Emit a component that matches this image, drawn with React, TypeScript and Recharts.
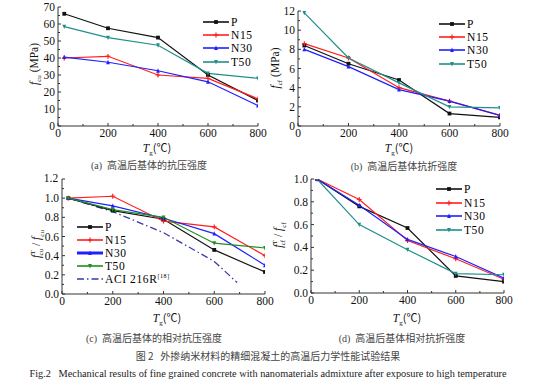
import React from "react";
import { LineChart, Line, XAxis, YAxis, ReferenceLine } from "recharts";

// temperatures (°C)
const temps = [25, 200, 400, 600, 800];

// (a) compressive strength f_cu (MPa)
const fcuP = [66, 57.5, 52, 30, 15];
const fcuN15 = [40, 41, 30, 28, 16];
const fcuN30 = [40.5, 37.5, 32.5, 26, 12];
const fcuT50 = [58.5, 52, 47.5, 31, 28];

// (b) flexural strength f_cf (MPa)
const fcfP = [8.4, 6.5, 4.8, 1.3, 0.9];
const fcfN15 = [8.6, 7.1, 4.0, 2.6, 1.1];
const fcfN30 = [8.0, 6.2, 3.8, 2.6, 1.1];
const fcfT50 = [11.8, 7.1, 4.5, 2.0, 1.9];

// (c) relative compressive strength
const relCuP = [1.0, 0.87, 0.78, 0.46, 0.23];
const relCuN15 = [1.0, 1.02, 0.76, 0.7, 0.4];
const relCuN30 = [1.0, 0.92, 0.79, 0.63, 0.3];
const relCuT50 = [1.0, 0.88, 0.8, 0.53, 0.48];
const aciTemps = [25, 200, 400, 600, 690];
const aciValues = [1.0, 0.86, 0.64, 0.34, 0.12];

// (d) relative flexural strength
const relCfP = [1.0, 0.76, 0.57, 0.15, 0.1];
const relCfN15 = [1.0, 0.82, 0.46, 0.3, 0.12];
const relCfN30 = [1.0, 0.77, 0.47, 0.32, 0.13];
const relCfT50 = [1.0, 0.6, 0.38, 0.17, 0.16];

const seriesNames = ["P", "N15", "N30", "T50"];
const xTicks = [0, 100, 200, 300, 400, 500, 600, 700, 800];
const xMajors = [0, 200, 400, 600, 800];

const SERIF = "'Liberation Serif', 'DejaVu Serif', serif";
const CJK = "'Noto Sans CJK SC', sans-serif";

const teal = "#1f8f8a";
const green = "#1f8f1f";
const styles: Record<string, { color: string; shape: string }> = {
  P: { color: "#111111", shape: "square" },
  N15: { color: "#ff1f1f", shape: "plus" },
  N30: { color: "#1f1fff", shape: "up" },
  T50: { color: teal, shape: "down" },
};

function rows(a: number[], b: number[], c: number[], d: number[]) {
  return temps.map((t, i) => ({ t, P: a[i], N15: b[i], N30: c[i], T50: d[i] }));
}

function Marker({ cx, cy, shape, color }: any) {
  if (cx == null || cy == null) return null;
  const s = 1.9;
  if (shape === "square")
    return <rect x={cx - s} y={cy - s} width={s * 2} height={s * 2} fill={color} />;
  if (shape === "plus")
    return (
      <g stroke={color} strokeWidth={1.2}>
        <line x1={cx - s - 0.5} y1={cy} x2={cx + s + 0.5} y2={cy} />
        <line x1={cx} y1={cy - s - 0.5} x2={cx} y2={cy + s + 0.5} />
      </g>
    );
  if (shape === "up")
    return <polygon points={`${cx},${cy - s - 0.5} ${cx - s},${cy + s} ${cx + s},${cy + s}`} fill={color} />;
  return <polygon points={`${cx},${cy + s + 0.5} ${cx - s},${cy - s} ${cx + s},${cy - s}`} fill={color} />;
}

function XTick({ x, y, payload }: any) {
  const v = payload.value;
  const major = xMajors.includes(v);
  return (
    <g>
      <line x1={x} y1={y} x2={x} y2={y - (major ? 3 : 2)} stroke="#333" />
      {major && (
        <text x={x} y={y + 11} textAnchor="middle" fontSize={11.5} fontFamily={SERIF} fill="#111">
          {v}
        </text>
      )}
    </g>
  );
}

// major ticks every `step` entries; the top label can be skipped and drawn separately
function makeYTick(step: number, digits: number, skipTop?: number) {
  return function YTick({ x, y, payload, index }: any) {
    const v = Number(payload.value);
    const major = index % step === 0;
    const skip = skipTop != null && Math.abs(v - skipTop) < 1e-6;
    return (
      <g>
        {!skip && <line x1={x} y1={y} x2={x + (major ? 3 : 2)} y2={y} stroke="#333" />}
        {major && !skip && (
          <text x={x - 3} y={y + 4} textAnchor="end" fontSize={11.5} fontFamily={SERIF} fill="#111">
            {v.toFixed(digits)}
          </text>
        )}
      </g>
    );
  };
}

type PanelProps = {
  left: number;
  top: number;
  plotLeft: number;
  plotTop: number;
  plotRight: number;
  plotBottom: number;
  yMax: number;
  yTicks: number[];
  step: number;
  digits: number;
  data: any[];
  t50Color?: string;
  aci?: boolean;
  topRef?: boolean;
};

function Panel(p: PanelProps) {
  const yw = 30;
  const xh = 20;
  const width = p.plotRight - p.left + 10;
  const height = p.plotBottom - p.top + xh + 5;
  const aciData = aciTemps.map((t, i) => ({ t, aci: aciValues[i] }));
  return (
    <div style={{ position: "absolute", left: p.left, top: p.top }}>
      <LineChart
        width={width}
        height={height}
        data={p.data}
        margin={{ top: p.plotTop - p.top, right: 10, bottom: 5, left: p.plotLeft - p.left - yw }}
      >
        <XAxis
          dataKey="t"
          type="number"
          domain={[0, 800]}
          ticks={xTicks}
          interval={0}
          height={xh}
          tickSize={0}
          tickMargin={0}
          tick={<XTick />}
          axisLine={{ stroke: "#333" }}
          tickLine={false}
          allowDataOverflow
        />
        <YAxis
          type="number"
          domain={[0, p.yMax]}
          ticks={p.yTicks}
          interval={0}
          width={yw}
          tickSize={0}
          tickMargin={0}
          tick={makeYTick(p.step, p.digits, p.topRef ? p.yMax : undefined)}
          axisLine={{ stroke: "#333" }}
          tickLine={false}
          allowDataOverflow
        />
        {p.topRef && (
          <ReferenceLine
            segment={[{ x: 0, y: p.yMax }, { x: 12, y: p.yMax }]}
            stroke="#333"
            ifOverflow="visible"
          />
        )}
        {p.aci && (
          <Line
            data={aciData}
            dataKey="aci"
            stroke="#3a3aa8"
            strokeWidth={1.3}
            strokeDasharray="7 3 1.5 3"
            dot={false}
            isAnimationActive={false}
          />
        )}
        {seriesNames.map((name) => {
          const color = name === "T50" && p.t50Color ? p.t50Color : styles[name].color;
          return (
            <Line
              key={name}
              dataKey={name}
              stroke={color}
              strokeWidth={1.2}
              dot={(d: any) => <Marker key={`${name}-${d.index}`} cx={d.cx} cy={d.cy} shape={styles[name].shape} color={color} />}
              isAnimationActive={false}
            />
          );
        })}
      </LineChart>
    </div>
  );
}

function LegendBox({ left, top, step, t50Color, aci, thickN30 }: any) {
  const items = seriesNames.map((n) => ({
    name: n,
    color: n === "T50" && t50Color ? t50Color : styles[n].color,
    shape: styles[n].shape,
  }));
  return (
    <div style={{ position: "absolute", left, top }}>
      {items.map((it, i) => (
        <div key={it.name} style={{ position: "absolute", left: 0, top: i * step, display: "flex", alignItems: "center", height: 12 }}>
          <svg width={26} height={10} style={{ display: "block" }}>
            <line x1={0} y1={5} x2={26} y2={5} stroke={it.color} strokeWidth={it.name === "N30" && thickN30 ? 3 : 1.6} />
            <Marker cx={13} cy={5} shape={it.shape} color={it.color} />
          </svg>
          <span style={{ fontFamily: SERIF, fontSize: 11.5, marginLeft: 2, letterSpacing: 0.6, whiteSpace: "nowrap" }}>{it.name}</span>
        </div>
      ))}
      {aci && (
        <div style={{ position: "absolute", left: 0, top: 4 * step, display: "flex", alignItems: "center", height: 12 }}>
          <svg width={26} height={10} style={{ display: "block" }}>
            <line x1={0} y1={5} x2={26} y2={5} stroke="#3a3aa8" strokeWidth={1.3} strokeDasharray="7 3 1.5 3" />
          </svg>
          <span style={{ fontFamily: SERIF, fontSize: 11.5, marginLeft: 2, letterSpacing: 0.6, whiteSpace: "nowrap" }}>
            ACI 216R<sup style={{ fontSize: 6 }}>[18]</sup>
          </span>
        </div>
      )}
    </div>
  );
}

function Label({ x, y, children, rotate, size = 11.5, font = SERIF, color = "#111" }: any) {
  return (
    <div
      style={{
        position: "absolute",
        left: x,
        top: y,
        transform: `translate(-50%, -50%)${rotate ? " rotate(-90deg)" : ""}`,
        fontFamily: font,
        fontSize: size,
        color,
        whiteSpace: "nowrap",
        lineHeight: 1,
      }}
    >
      {children}
    </div>
  );
}

function Tg() {
  return (
    <span>
      <i>T</i>
      <sub style={{ fontSize: 7, lineHeight: 0 }}>g</sub>
      <span style={{ fontFamily: CJK, fontSize: 11 }}>(℃)</span>
    </span>
  );
}

export default function App() {
  return (
    <div style={{ position: "absolute", left: 0, top: 0, width: 536, height: 382, background: "#fff", overflow: "hidden" }}>
      <Panel left={0} top={0} plotLeft={58} plotTop={7} plotRight={258} plotBottom={126} yMax={70}
        yTicks={[0, 5, 10, 15, 20, 25, 30, 35, 40, 45, 50, 55, 60, 65, 70]} step={2} digits={0}
        data={rows(fcuP, fcuN15, fcuN30, fcuT50)} />
      <Panel left={240} top={0} plotLeft={298} plotTop={11} plotRight={500} plotBottom={126} yMax={12}
        yTicks={[0, 1, 2, 3, 4, 5, 6, 7, 8, 9, 10, 11, 12]} step={2} digits={0}
        data={rows(fcfP, fcfN15, fcfN30, fcfT50)} />
      <Panel left={0} top={165} plotLeft={62} plotTop={179} plotRight={265} plotBottom={294} yMax={1.2}
        yTicks={[0, 0.1, 0.2, 0.3, 0.4, 0.5, 0.6, 0.7, 0.8, 0.9, 1.0, 1.1, 1.2]} step={2} digits={1}
        data={rows(relCuP, relCuN15, relCuN30, relCuT50)} t50Color={green} aci topRef />
      <Panel left={250} top={165} plotLeft={311} plotTop={179} plotRight={504} plotBottom={293} yMax={1.0}
        yTicks={[0, 0.1, 0.2, 0.3, 0.4, 0.5, 0.6, 0.7, 0.8, 0.9, 1.0]} step={2} digits={1}
        data={rows(relCfP, relCfN15, relCfN30, relCfT50)} />

      <LegendBox left={203} top={16} step={13.2} />
      <LegendBox left={439} top={18} step={13.2} />
      <LegendBox left={77} top={221} step={13} t50Color={green} aci thickN30 />
      <LegendBox left={436} top={183} step={13.7} />

      <Label x={36} y={64} rotate>
        <i>f</i><sub style={{ fontSize: 7 }}>cu</sub> (MPa)
      </Label>
      <Label x={277} y={68} rotate>
        <i>f</i><sub style={{ fontSize: 7 }}>cf</sub> (MPa)
      </Label>
      <Label x={38} y={244} rotate>
        <i>f</i><sup style={{ fontSize: 7 }}>T</sup><sub style={{ fontSize: 7, marginLeft: -5 }}>cu</sub> / <i>f</i><sub style={{ fontSize: 7 }}>cu</sub>
      </Label>
      <Label x={280} y={235} rotate>
        <i>f</i><sup style={{ fontSize: 7 }}>T</sup><sub style={{ fontSize: 7, marginLeft: -5 }}>cf</sub> / <i>f</i><sub style={{ fontSize: 7 }}>cf</sub>
      </Label>

      <Label x={157} y={148}><Tg /></Label>
      <Label x={399} y={148}><Tg /></Label>
      <Label x={167} y={318}><Tg /></Label>
      <Label x={407} y={318}><Tg /></Label>

      <Label x={149} y={165} size={10} color="#444"><span style={{ fontFamily: SERIF }}>(a)</span>&nbsp; <span style={{ fontFamily: CJK }}>高温后基体的抗压强度</span></Label>
      <Label x={404} y={166} size={10} color="#444"><span style={{ fontFamily: SERIF }}>(b)</span>&nbsp; <span style={{ fontFamily: CJK }}>高温后基体抗折强度</span></Label>
      <Label x={154} y={338} size={10} color="#444"><span style={{ fontFamily: SERIF }}>(c)</span>&nbsp; <span style={{ fontFamily: CJK }}>高温后基体的相对抗压强度</span></Label>
      <Label x={402} y={338} size={10} color="#444"><span style={{ fontFamily: SERIF }}>(d)</span>&nbsp; <span style={{ fontFamily: CJK }}>高温后基体相对抗折强度</span></Label>
      <Label x={268} y={356} size={10} color="#444"><span style={{ fontFamily: CJK }}>图 2&nbsp;&nbsp;&nbsp;外掺纳米材料的精细混凝土的高温后力学性能试验结果</span></Label>
      <Label x={268} y={374} size={10.3} color="#222">Fig.2&nbsp;&nbsp;&nbsp;Mechanical results of fine grained concrete with nanomaterials admixture after exposure to high temperature</Label>

      {/* top y label of panel (c) */}
      <Label x={51} y={179}>1.2</Label>
    </div>
  );
}
